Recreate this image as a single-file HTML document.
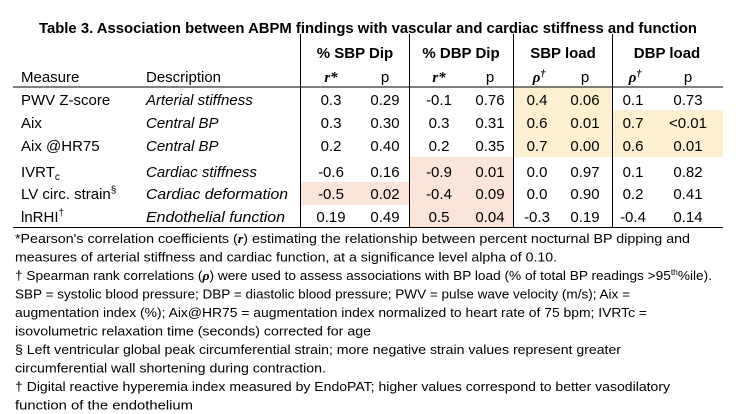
<!DOCTYPE html>
<html><head><meta charset="utf-8"><style>
body{margin:0;background:#fff;width:739px;height:414px;overflow:hidden}
svg{display:block;font-family:"Liberation Sans",sans-serif;fill:#000}
.b{font-weight:bold}.i{font-style:italic}
</style></head><body>
<svg width="739" height="414">
<g>
<rect x="513" y="87" width="99" height="70" fill="#fdf0d0"/>
<rect x="612" y="110" width="111" height="47" fill="#fdf0d0"/>
<rect x="300" y="182" width="109" height="23" fill="#fbe4da"/>
<rect x="409" y="157" width="104" height="70" fill="#fbe4da"/>
</g>
<text x="39" y="33" class="b" font-size="15" textLength="658" lengthAdjust="spacingAndGlyphs">Table 3. Association between ABPM findings with vascular and cardiac stiffness and function</text>
<g stroke="#000" stroke-width="1">
<line x1="13" y1="87" x2="723" y2="87"/>
<line x1="13" y1="227.5" x2="723" y2="227.5"/>
<line x1="300.5" y1="34" x2="300.5" y2="227"/>
<line x1="409.5" y1="34" x2="409.5" y2="227"/>
<line x1="513.5" y1="34" x2="513.5" y2="227"/>
<line x1="612.5" y1="34" x2="612.5" y2="227"/>
</g>
<g class="b" font-size="15" text-anchor="middle">
<text x="355" y="58">% SBP Dip</text>
<text x="461" y="58">% DBP Dip</text>
<text x="563" y="58">SBP load</text>
<text x="667" y="58">DBP load</text>
</g>
<g font-size="15">
<text x="21" y="82">Measure</text>
<text x="146" y="82">Description</text>
<g text-anchor="middle">
<text x="331" y="82" class="b i" font-family="Liberation Serif">r*</text><text x="385" y="82">p</text>
<text x="439" y="82" class="b i" font-family="Liberation Serif">r*</text><text x="490" y="82">p</text>
<text x="539" y="82" class="b i" font-family="Liberation Serif">ρ<tspan font-size="10" dy="-5">†</tspan></text><text x="585" y="82">p</text>
<text x="635" y="82" class="b i" font-family="Liberation Serif">ρ<tspan font-size="10" dy="-5">†</tspan></text><text x="688" y="82">p</text>
</g></g>
<g font-size="15">
<text x="21" y="105">PWV Z-score</text><text x="146" y="105" class="i">Arterial stiffness</text>
<text x="21" y="128">Aix</text><text x="146" y="128" class="i">Central BP</text>
<text x="21" y="151">Aix @HR75</text><text x="146" y="151" class="i">Central BP</text>
<text x="21" y="177">IVRT<tspan font-size="10" dy="3">c</tspan></text><text x="146" y="177" class="i">Cardiac stiffness</text>
<text x="21" y="199">LV circ. strain<tspan font-size="10" dy="-6">§</tspan></text><text x="146" y="199" class="i" textLength="142" lengthAdjust="spacingAndGlyphs">Cardiac deformation</text>
<text x="21" y="222">lnRHI<tspan font-size="10" dy="-6">†</tspan></text><text x="146" y="222" class="i" textLength="139" lengthAdjust="spacingAndGlyphs">Endothelial function</text>
<g text-anchor="middle">
<text y="105"><tspan x="331">0.3</tspan><tspan x="385">0.29</tspan><tspan x="439">-0.1</tspan><tspan x="490">0.76</tspan><tspan x="537">0.4</tspan><tspan x="585">0.06</tspan><tspan x="633">0.1</tspan><tspan x="688">0.73</tspan></text>
<text y="128"><tspan x="331">0.3</tspan><tspan x="385">0.30</tspan><tspan x="439">0.3</tspan><tspan x="490">0.31</tspan><tspan x="537">0.6</tspan><tspan x="585">0.01</tspan><tspan x="633">0.7</tspan><tspan x="688">&lt;0.01</tspan></text>
<text y="151"><tspan x="331">0.2</tspan><tspan x="385">0.40</tspan><tspan x="439">0.2</tspan><tspan x="490">0.35</tspan><tspan x="537">0.7</tspan><tspan x="585">0.00</tspan><tspan x="633">0.6</tspan><tspan x="688">0.01</tspan></text>
<text y="177"><tspan x="331">-0.6</tspan><tspan x="385">0.16</tspan><tspan x="439">-0.9</tspan><tspan x="490">0.01</tspan><tspan x="537">0.0</tspan><tspan x="585">0.97</tspan><tspan x="633">0.1</tspan><tspan x="688">0.82</tspan></text>
<text y="199"><tspan x="331">-0.5</tspan><tspan x="385">0.02</tspan><tspan x="439">-0.4</tspan><tspan x="490">0.09</tspan><tspan x="537">0.0</tspan><tspan x="585">0.90</tspan><tspan x="633">0.2</tspan><tspan x="688">0.41</tspan></text>
<text y="222"><tspan x="331">0.19</tspan><tspan x="385">0.49</tspan><tspan x="439">0.5</tspan><tspan x="490">0.04</tspan><tspan x="537">-0.3</tspan><tspan x="585">0.19</tspan><tspan x="633">-0.4</tspan><tspan x="688">0.14</tspan></text>
</g></g>
<g font-size="13">
<text x="15" y="243" textLength="675" lengthAdjust="spacingAndGlyphs">*Pearson's correlation coefficients (<tspan class="b i" font-family="Liberation Serif">r</tspan>) estimating the relationship between percent nocturnal BP dipping and</text>
<text x="15" y="261.5" textLength="542" lengthAdjust="spacingAndGlyphs">measures of arterial stiffness and cardiac function, at a significance level alpha of 0.10.</text>
<text x="15" y="280" textLength="697" lengthAdjust="spacingAndGlyphs">† Spearman rank correlations (<tspan class="b i" font-family="Liberation Serif">ρ</tspan>) were used to assess associations with BP load (% of total BP readings &gt;95<tspan font-size="8" dy="-5">th</tspan><tspan dy="5">%ile).</tspan></text>
<text x="15" y="298.5" textLength="615" lengthAdjust="spacingAndGlyphs">SBP = systolic blood pressure; DBP = diastolic blood pressure; PWV = pulse wave velocity (m/s); Aix =</text>
<text x="15" y="317" textLength="632" lengthAdjust="spacingAndGlyphs">augmentation index (%); Aix@HR75 = augmentation index normalized to heart rate of 75 bpm; IVRTc =</text>
<text x="15" y="335.5" textLength="356" lengthAdjust="spacingAndGlyphs">isovolumetric relaxation time (seconds) corrected for age</text>
<text x="15" y="354" textLength="606" lengthAdjust="spacingAndGlyphs">§ Left ventricular global peak circumferential strain; more negative strain values represent greater</text>
<text x="15" y="372.5" textLength="311" lengthAdjust="spacingAndGlyphs">circumferential wall shortening during contraction.</text>
<text x="15" y="391" textLength="655" lengthAdjust="spacingAndGlyphs">† Digital reactive hyperemia index measured by EndoPAT; higher values correspond to better vasodilatory</text>
<text x="15" y="409.5" textLength="178" lengthAdjust="spacingAndGlyphs">function of the endothelium</text>
</g>
</svg>
</body></html>
